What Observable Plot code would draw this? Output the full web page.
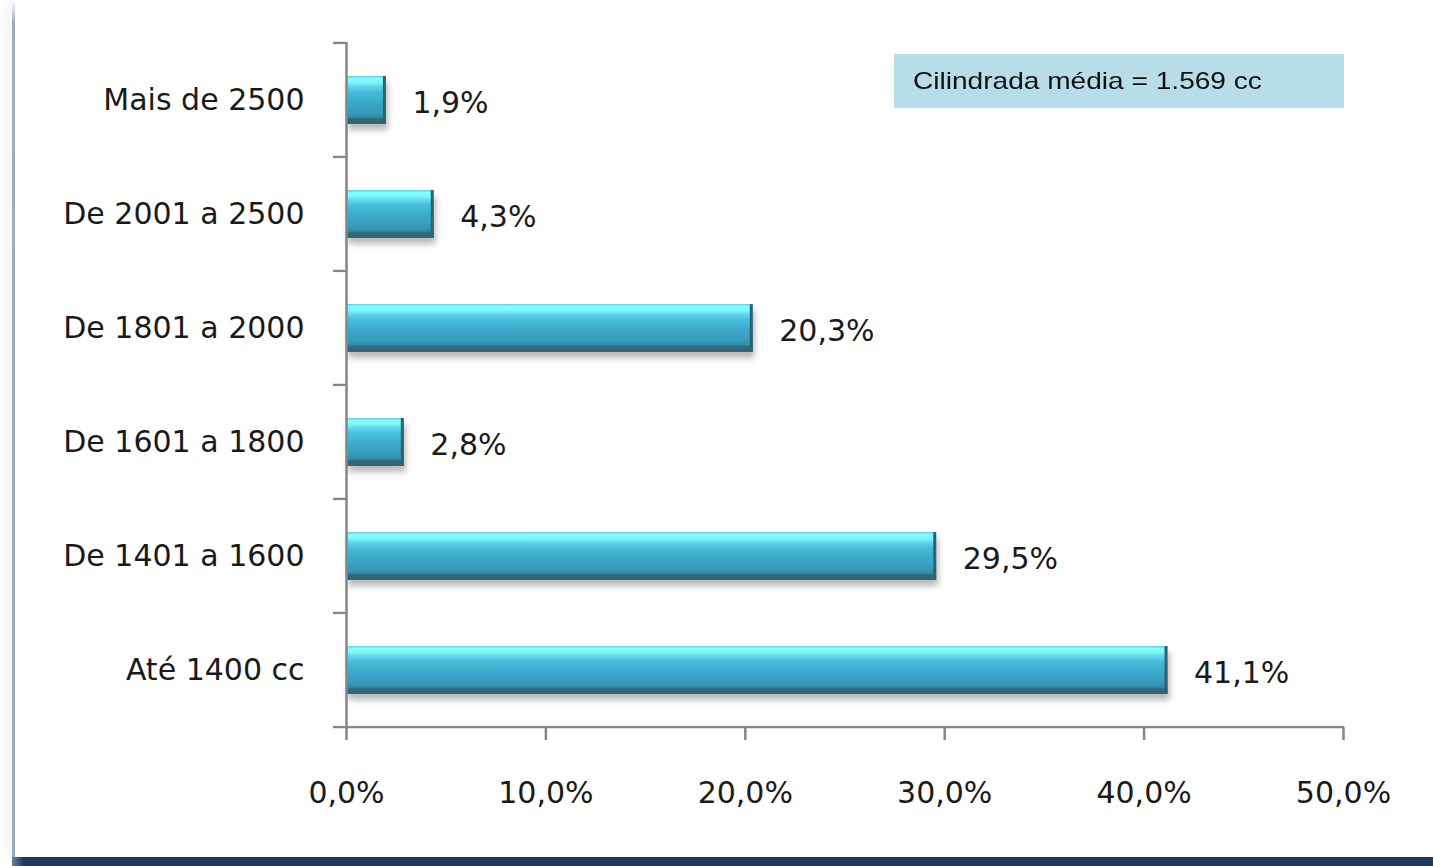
<!DOCTYPE html>
<html>
<head>
<meta charset="utf-8">
<script src="https://cdn.jsdelivr.net/npm/d3@7"></script>
<script src="https://cdn.jsdelivr.net/npm/@observablehq/plot@0.6"></script>
<style>
  html, body { margin: 0; padding: 0; background: #ffffff; }
  #wrap { position: relative; width: 1433px; height: 866px; overflow: hidden; background: #fff; }
  #chart { position: absolute; left: 0; top: 0; }
  #leftline { position: absolute; left: 12px; top: 0; width: 3px; height: 857px;
    background: linear-gradient(to bottom, rgba(154,168,192,0) 0px, #9fadc4 22px, #9aa8c0 100%);
    box-shadow: -5px 0 6px rgba(120,130,150,0.18); }
  #bottomband { position: absolute; left: 12px; top: 857px; width: 1421px; height: 9px;
    background: linear-gradient(to right, #6a7f9c 0px, #1e3a5f 12px, #1e3a5f 100%); }
  #note { position: absolute; left: 894px; top: 54px; width: 450px; height: 54px;
    background: #b7dde8; box-sizing: border-box; overflow: hidden; }
  #note span { position: absolute; left: 19px; top: 0; line-height: 54px; white-space: nowrap;
    font-family: "Liberation Sans", Arial, sans-serif; font-size: 24px; color: #111;
    transform: scaleX(1.17); transform-origin: 0 50%; }
</style>
</head>
<body>
<div id="wrap">
  <div id="chart"></div>
  <div id="leftline"></div>
  <div id="bottomband"></div>
  <div id="note"><span id="noteText"></span></div>
</div>
<script>
// ---- data ----
const categories = ["Mais de 2500", "De 2001 a 2500", "De 1801 a 2000", "De 1601 a 1800", "De 1401 a 1600", "Até 1400 cc"];
const shares = [1.9, 4.3, 20.3, 2.8, 29.5, 41.1];
const xTicks = [0, 10, 20, 30, 40, 50];
const noteText = "Cilindrada média = 1.569 cc";

const data = categories.map((c, i) => ({cat: c, v: shares[i]}));
const fmt = d => d.toFixed(1).replace(".", ",") + "%";

const W = 1433, H = 866;
const mTop = 42, mBottom = 139, mLeft = 346, mRight = 90;
const bw = (H - mTop - mBottom) / categories.length;
const barH = 48;
const inset = (bw - barH) / 2;
const axisColor = "#868686";

const plot = Plot.plot({
  width: W, height: H,
  marginTop: mTop, marginBottom: mBottom, marginLeft: mLeft, marginRight: mRight,
  x: {domain: [0, 50], axis: null, label: null},
  y: {domain: categories, padding: 0, axis: null, label: null},
  style: {fontFamily: "'DejaVu Sans', Verdana, sans-serif", fontSize: "30px", color: "#1a1a1a", background: "transparent", overflow: "visible"},
  marks: [
    // bars
    Plot.barX(data, {y: "cat", x: "v", fill: "url(#barGrad)", insetTop: inset, insetBottom: inset, insetRight: -2}),
    // dark right bevel
    Plot.barX(data, {y: "cat", x1: "v", x2: "v", insetLeft: -1, insetRight: -2, insetTop: inset, insetBottom: inset, fill: "#2c6373"}),
    // y axis line
    Plot.ruleX([0], {stroke: axisColor, strokeWidth: 2.5}),
    // category boundary ticks (top of each band)
    Plot.barX(categories, {y: d => d, x1: 0, x2: 0, insetLeft: -13, insetTop: -1.25, insetBottom: bw - 1.25, fill: axisColor}),
    // x axis line (bottom of last band), extended left as the bottom tick
    Plot.barX([categories[categories.length - 1]], {y: d => d, x1: 0, x2: 50, insetLeft: -13, insetRight: -1, insetTop: bw - 1.25, insetBottom: -1.25, fill: axisColor}),
    // x axis ticks and labels
    Plot.axisX(xTicks, {anchor: "bottom", label: null, tickSize: 13, tickPadding: 41, tickFormat: fmt, stroke: axisColor, strokeWidth: 2.5, fill: "#1a1a1a"}),
    // category labels
    Plot.axisY({anchor: "left", label: null, tickSize: 0, tickPadding: 42, fill: "#1a1a1a"}),
    // value labels
    Plot.text(data, {x: "v", y: "cat", text: d => fmt(d.v), textAnchor: "start", dx: 28, dy: 3, fill: "#1a1a1a"})
  ]
});

// gradient + shadow defs
const svgNS = "http://www.w3.org/2000/svg";
const defs = document.createElementNS(svgNS, "defs");
const grad = document.createElementNS(svgNS, "linearGradient");
grad.setAttribute("id", "barGrad");
grad.setAttribute("x1", "0"); grad.setAttribute("y1", "0");
grad.setAttribute("x2", "0"); grad.setAttribute("y2", "1");
[
  [0, "#5cc8e0"], [0.05, "#80ffff"], [0.13, "#7cf6fc"], [0.22, "#5fd6ee"],
  [0.32, "#48bfdc"], [0.5, "#3cacce"], [0.75, "#379cbd"], [0.86, "#358aa8"],
  [0.88, "#346d7e"], [1, "#31606f"]
].forEach(([o, c]) => {
  const s = document.createElementNS(svgNS, "stop");
  s.setAttribute("offset", o); s.setAttribute("stop-color", c);
  grad.appendChild(s);
});
defs.appendChild(grad);
const filt = document.createElementNS(svgNS, "filter");
filt.setAttribute("id", "barShadow");
filt.setAttribute("x", "-10%"); filt.setAttribute("y", "-20%");
filt.setAttribute("width", "130%"); filt.setAttribute("height", "160%");
const ds = document.createElementNS(svgNS, "feDropShadow");
ds.setAttribute("dx", "2"); ds.setAttribute("dy", "6");
ds.setAttribute("stdDeviation", "3");
ds.setAttribute("flood-color", "#000"); ds.setAttribute("flood-opacity", "0.28");
filt.appendChild(ds);
defs.appendChild(filt);
plot.insertBefore(defs, plot.firstChild);
const barGroups = plot.querySelectorAll('g[aria-label="bar"]');
if (barGroups[0]) barGroups[0].setAttribute("filter", "url(#barShadow)");

document.getElementById("chart").appendChild(plot);
document.getElementById("noteText").textContent = noteText;
</script>
</body>
</html>
